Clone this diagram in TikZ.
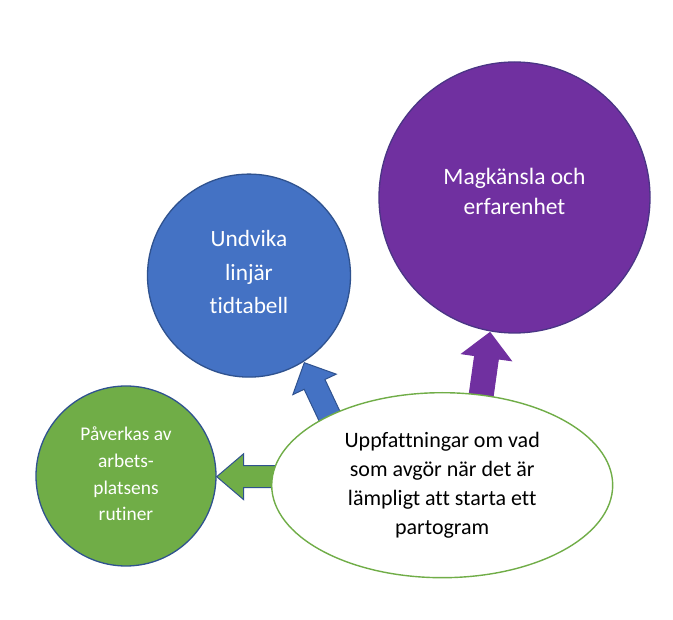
\documentclass[tikz,border=0pt]{standalone}
\usepackage{fontspec}
\setmainfont{Carlito}[Ligatures=NoCommon]
\usetikzlibrary{calc,backgrounds,shapes.geometric}
\definecolor{purp}{HTML}{7030A0}
\definecolor{blu}{HTML}{4472C4}
\definecolor{grn}{HTML}{70AD47}
\definecolor{edgeblue}{HTML}{2F528F}
\definecolor{edgepurp}{HTML}{4A3585}
\newcommand\fatarrow[6]{%
  \coordinate (#2#3b) at ($(#3)!#6!(#2)$);
  \path[#1] ($(#2)!#4!90:(#3)$) -- ($(#2#3b)!#4!-90:(#2)$) -- ($(#2#3b)!#5!-90:(#2)$)
    -- (#3) -- ($(#2#3b)!#5!90:(#2)$) -- ($(#2#3b)!#4!90:(#2)$) -- ($(#2)!#4!-90:(#3)$) -- cycle;
}
\tikzset{
  circ/.style={circle, inner sep=0pt, line width=1.3pt},
  lbl/.style={align=center, text=white, inner sep=0pt},
  ell/.style={ellipse, draw=grn, fill=white, line width=1.4pt, inner sep=0pt,
    minimum width=341pt, minimum height=185pt, align=center},
  fat/.style={line width=1pt, line join=miter}
}
\begin{document}
\begin{tikzpicture}[x=1pt,y=-1pt]
\useasboundingbox (0,0) rectangle (673,620);
\node[circ, draw=edgepurp, fill=purp, minimum size=271pt] (mag) at (514.5,197.5) {};
\node[circ, draw=edgeblue, fill=blu, minimum size=203pt] (und) at (249,275.6) {};
\node[circ, draw=edgeblue, fill=grn, minimum size=180pt] (pav) at (126,476) {};
\node[ell, font=\fontsize{22}{29}\selectfont] (upp) at (442.2,485.2)
  {Uppfattningar om vad\\som avgör när det är\\lämpligt att starta ett\\partogram};
\node[lbl, font=\fontsize{23.5}{30}\selectfont] (magt) at (514.5,191)
  {Magkänsla och\\erfarenhet};
\node[lbl, font=\fontsize{23.3}{33.5}\selectfont] (undt) at (249,272)
  {Undvika\\linjär\\tidtabell};
\node[lbl, font=\fontsize{19.4}{26.7}\selectfont] (pavt) at (126,474)
  {Påverkas av\\arbets-\\platsens\\rutiner};
\coordinate (gs) at (300,476.7);
\coordinate (gt) at (216.7,476.7);
\coordinate (bs) at (336.3,430.5);
\coordinate (bt) at (304.3,362.7);
\coordinate (ps) at (478.8,412.2);
\coordinate (pt) at (490,332.5);
\begin{scope}[on background layer]
\fill[white] (0,0) rectangle (673,620);
\fatarrow{fat, draw=edgeblue, fill=grn}{gs}{gt}{11pt}{23pt}{27pt}
\fatarrow{fat, draw=edgeblue, fill=blu}{bs}{bt}{11.5pt}{24pt}{24pt}
\fatarrow{fat, draw=purp, fill=purp}{ps}{pt}{12pt}{25pt}{25pt}
\end{scope}
\end{tikzpicture}
\end{document}
